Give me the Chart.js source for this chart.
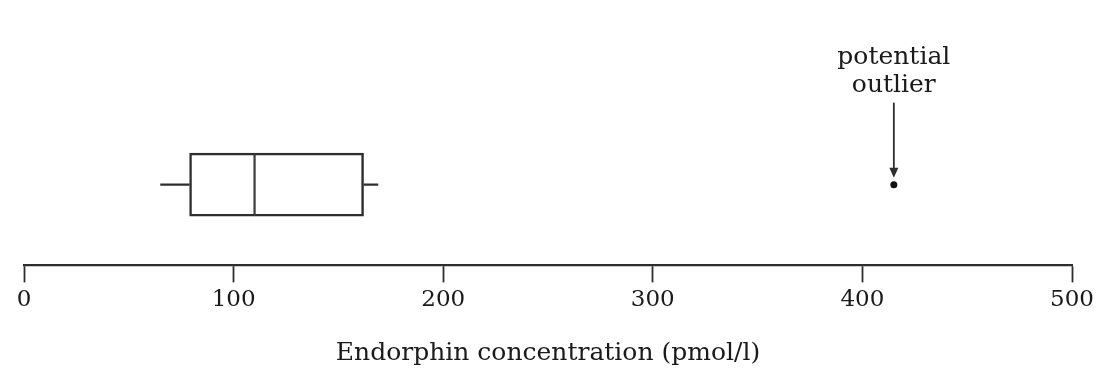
<!DOCTYPE html>
<html>
<head>
<meta charset="utf-8">
<script src="https://cdn.jsdelivr.net/npm/chart.js@4"></script>
<style>
html,body{margin:0;padding:0;background:#fff;}
#wrap{width:1098px;height:374px;}
</style>
</head>
<body>
<div id="wrap"><canvas id="c" width="1098" height="374"></canvas></div>
<script>
// ---- data ----
const categories = ['Endorphin'];
const boxStats = { min: 65, q1: 79, median: 110, q3: 162, max: 169 };
const outliers = [415];
const xTicks = [0, 100, 200, 300, 400, 500];
const axisTitle = 'Endorphin concentration (pmol/l)';
const annotationLines = ['potential', 'outlier'];

const INK = '#2e2e2e';
const TEXT = '#1a1a1a';
const FONT = "'DejaVu Serif', serif";
const cat = categories[0];

const annotatePlugin = {
  id: 'annotate',
  afterDatasetsDraw(chart) {
    const ctx = chart.ctx;
    const meta = chart.getDatasetMeta(4);
    const pt = meta.data[0];
    if (!pt) return;
    const x = pt.x, y = pt.y;
    ctx.save();
    ctx.strokeStyle = INK;
    ctx.fillStyle = INK;
    ctx.lineWidth = 1.8;
    ctx.beginPath();
    ctx.moveTo(x, y - 82);
    ctx.lineTo(x, y - 14);
    ctx.stroke();
    ctx.beginPath();
    ctx.moveTo(x - 4.5, y - 17);
    ctx.lineTo(x + 4.5, y - 17);
    ctx.lineTo(x, y - 7);
    ctx.closePath();
    ctx.fill();
    ctx.fillStyle = TEXT;
    ctx.font = '25px ' + FONT;
    ctx.textAlign = 'center';
    ctx.textBaseline = 'middle';
    ctx.fillText(annotationLines[0], x, y - 127);
    ctx.fillText(annotationLines[1], x, y - 99);
    ctx.restore();
  }
};

new Chart(document.getElementById('c'), {
  type: 'bar',
  data: {
    labels: categories,
    datasets: [
      {
        type: 'line', label: 'whiskerLow',
        data: [{ x: boxStats.min, y: cat }, { x: boxStats.q1, y: cat }],
        borderColor: INK, borderWidth: 2.2, pointRadius: 0, order: 5
      },
      {
        type: 'line', label: 'whiskerHigh',
        data: [{ x: boxStats.q3, y: cat }, { x: boxStats.max, y: cat }],
        borderColor: INK, borderWidth: 2.2, pointRadius: 0, order: 5
      },
      {
        label: 'boxLow',
        data: [[boxStats.q1, boxStats.median]],
        backgroundColor: '#fff', borderColor: INK,
        borderWidth: { top: 2.5, bottom: 2.5, left: 2.5, right: 1.4 },
        borderSkipped: false, barThickness: 63, grouped: false, order: 1
      },
      {
        label: 'boxHigh',
        data: [[boxStats.median, boxStats.q3]],
        backgroundColor: '#fff', borderColor: INK,
        borderWidth: { top: 2.5, bottom: 2.5, left: 1.4, right: 2.5 },
        borderSkipped: false, barThickness: 63, grouped: false, order: 1
      },
      {
        type: 'line', label: 'outliers', showLine: false,
        data: outliers.map(v => ({ x: v, y: cat })),
        pointRadius: 3.5, pointBackgroundColor: '#111', pointBorderWidth: 0, order: 0
      }
    ]
  },
  options: {
    indexAxis: 'y',
    responsive: false,
    animation: false,
    layout: { padding: { top: 104, left: 24, right: 26, bottom: 2 } },
    plugins: { legend: { display: false }, tooltip: { enabled: false } },
    scales: {
      y: { type: 'category', display: false, offset: true },
      x: {
        type: 'linear', min: xTicks[0], max: xTicks[xTicks.length - 1],
        afterBuildTicks(scale) { scale.ticks = xTicks.map(v => ({ value: v })); },
        grid: { drawOnChartArea: false, drawTicks: true, tickLength: 17, tickColor: INK, tickWidth: 1.8 },
        border: { display: true, color: INK, width: 2.2 },
        ticks: { color: TEXT, font: { family: FONT, size: 23 }, padding: 4, maxRotation: 0 },
        title: { display: true, text: axisTitle, color: TEXT, font: { family: FONT, size: 25 }, padding: { top: 20, bottom: 4 } }
      }
    }
  },
  plugins: [annotatePlugin]
});
</script>
</body>
</html>
